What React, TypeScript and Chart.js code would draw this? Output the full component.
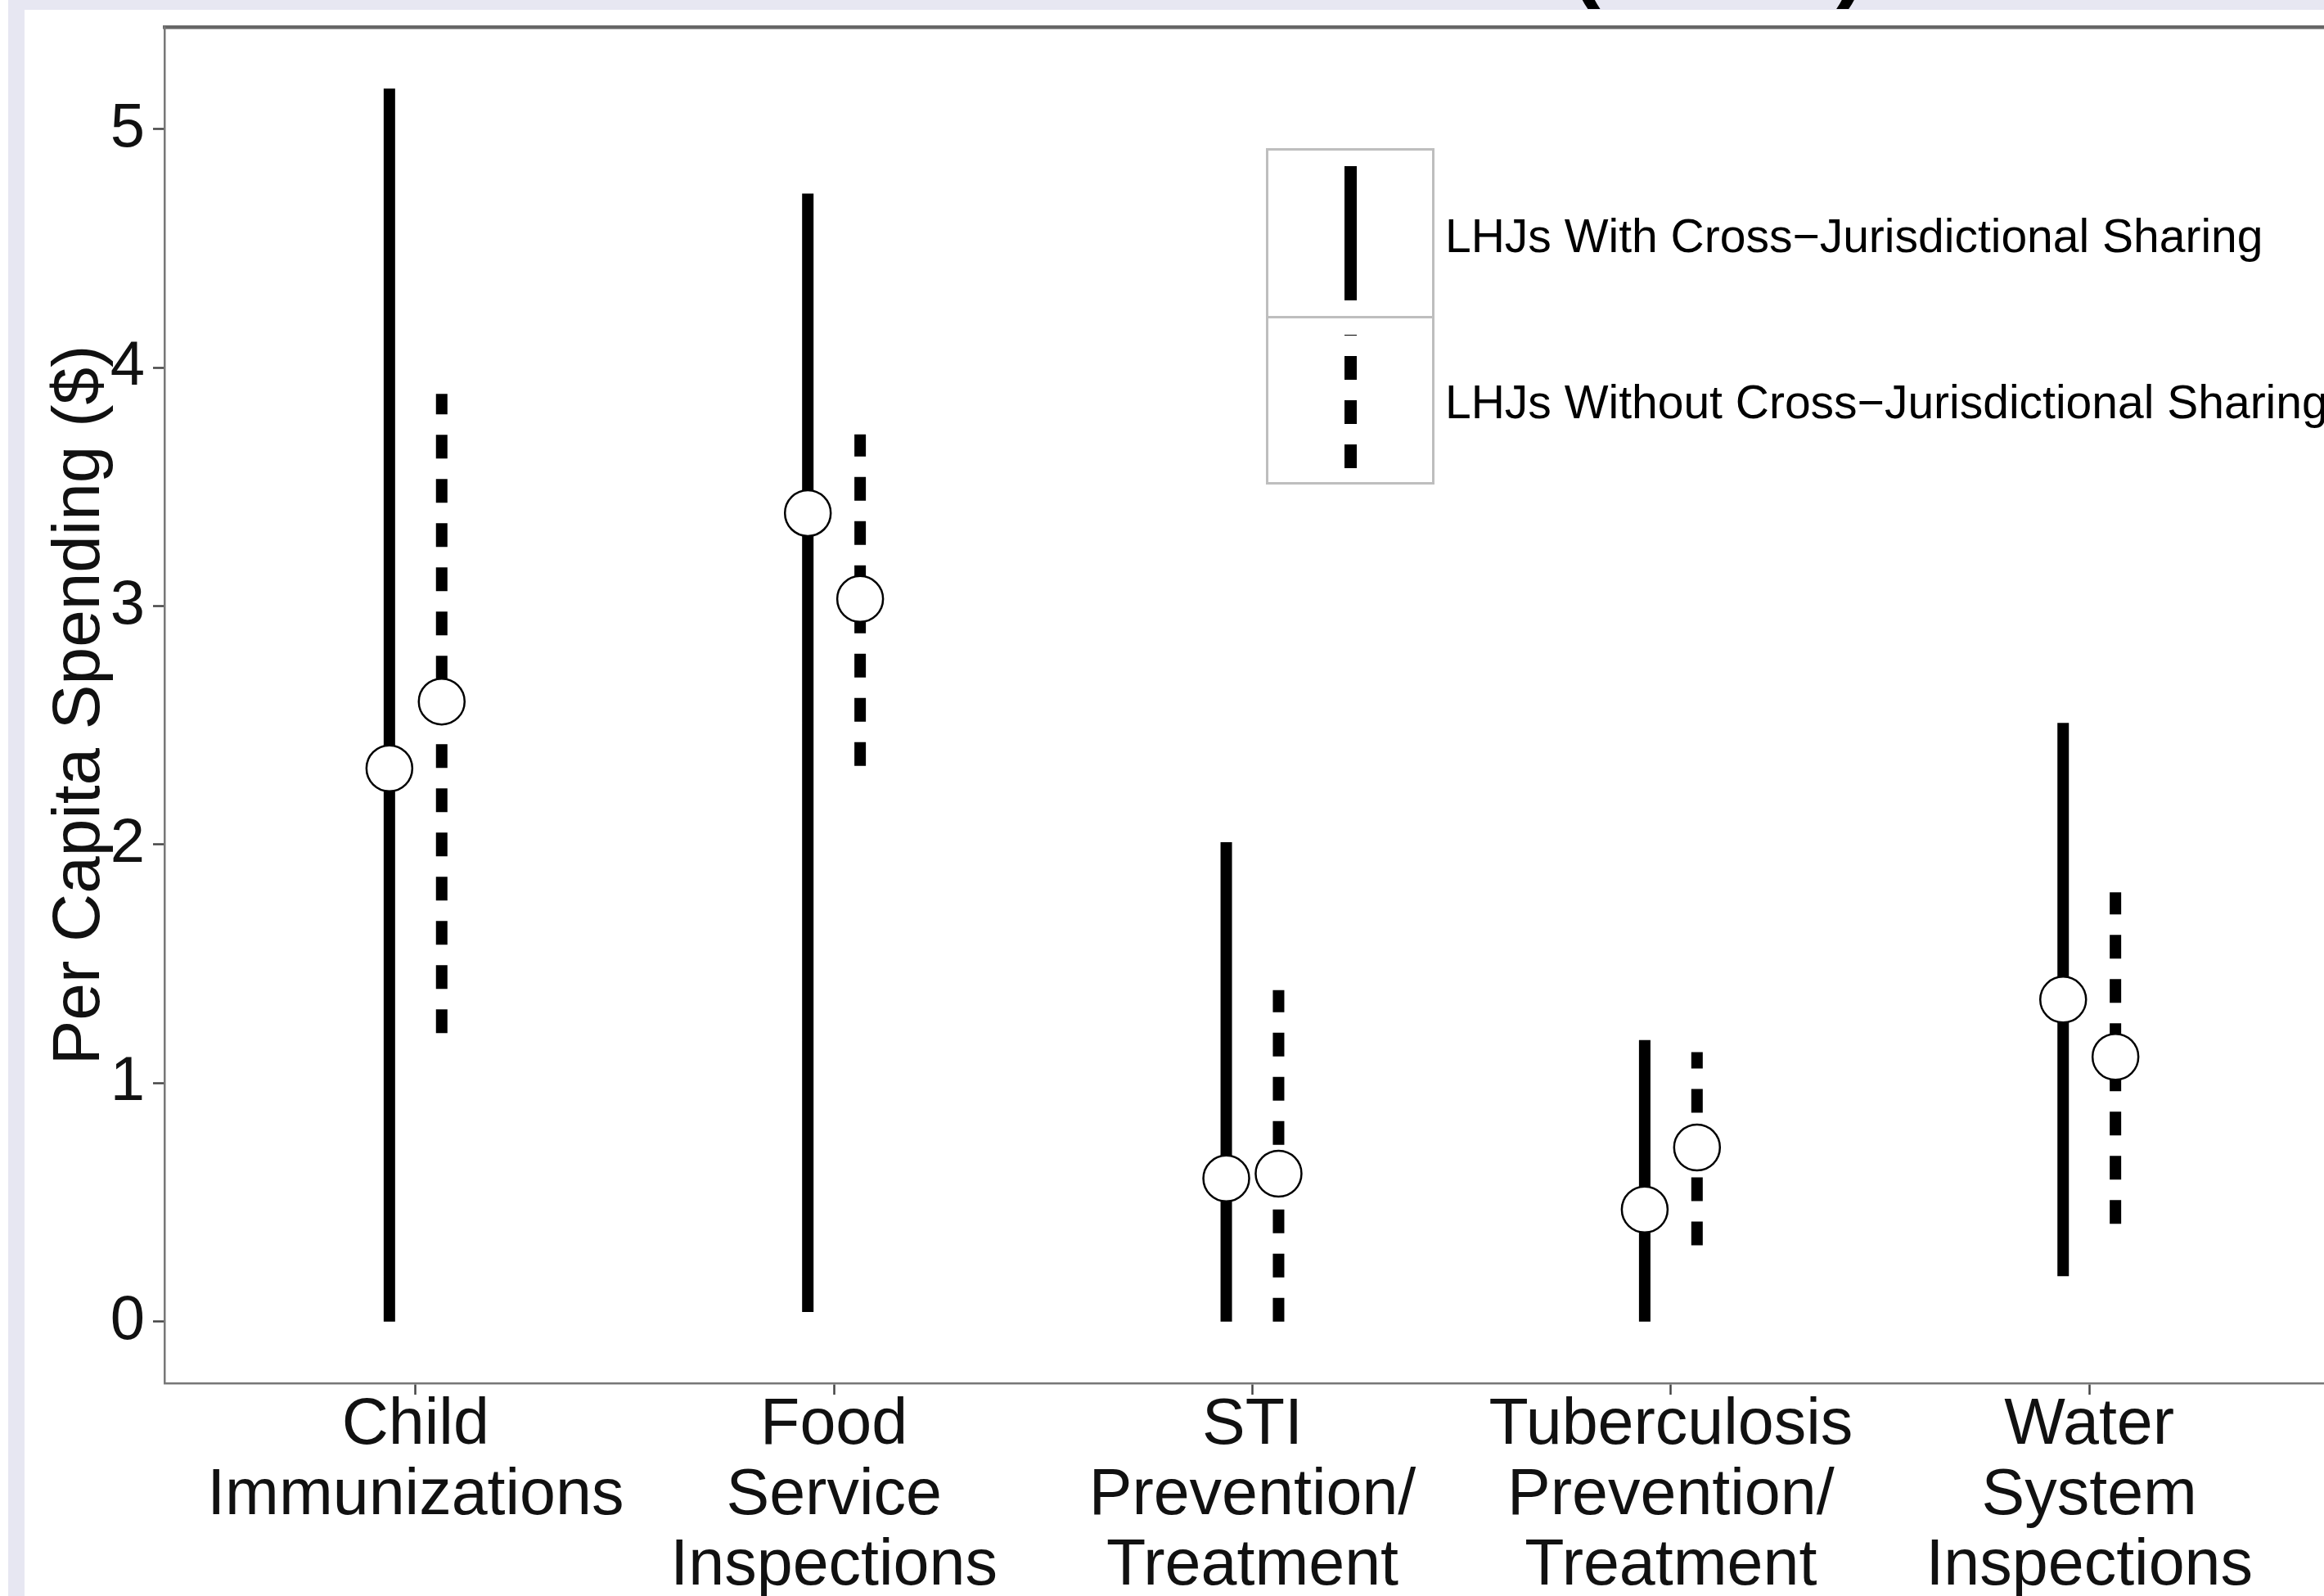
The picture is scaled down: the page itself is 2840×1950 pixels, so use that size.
import React, { useEffect, useRef } from 'react';
import { Chart, registerables } from 'chart.js';

Chart.register(...registerables);

// ---- Data ----
const CATEGORIES: string[][] = [
  ['Child', 'Immunizations'],
  ['Food', 'Service', 'Inspections'],
  ['STI', 'Prevention/', 'Treatment'],
  ['Tuberculosis', 'Prevention/', 'Treatment'],
  ['Water', 'System', 'Inspections'],
];
const WITH_LOW = [0, 0.04, 0, 0, 0.19];
const WITH_HIGH = [5.17, 4.73, 2.01, 1.18, 2.51];
const WITH_MID = [2.32, 3.39, 0.6, 0.47, 1.35];
const WITHOUT_LOW = [1.21, 2.33, 0, 0.32, 0.41];
const WITHOUT_HIGH = [3.89, 3.72, 1.39, 1.13, 1.8];
const WITHOUT_MID = [2.6, 3.03, 0.62, 0.73, 1.11];
const Y_TICKS = [0, 1, 2, 3, 4, 5];
const LEGEND_WITH = 'LHJs With Cross\u2212Jurisdictional Sharing';
const LEGEND_WITHOUT = 'LHJs Without Cross\u2212Jurisdictional Sharing';
const Y_TITLE = 'Per Capita Spending ($)';

const FONT = "'Liberation Sans', Arial, Helvetica, sans-serif";
const DODGE = 0.0625;
const CANVAS_W = 2830;
const CANVAS_H = 1940;
const AREA_TOP = 21;
const AREA_BOTTOM = 1678;
const AREA_LEFT = 171;

function rangeData(lows: number[], highs: number[], offset: number) {
  const pts: { x: number; y: number | null }[] = [];
  lows.forEach((lo, i) => {
    const x = i + 1 + offset;
    pts.push({ x, y: lo }, { x, y: highs[i] }, { x: x + 0.3, y: null });
  });
  return pts;
}

function midData(mids: number[], offset: number) {
  return mids.map((v, i) => ({ x: i + 1 + offset, y: v }));
}

function noPad(s: any) {
  s.paddingLeft = 0;
  s.paddingRight = 0;
  s.paddingTop = 0;
  s.paddingBottom = 0;
}

export default function App() {
  const canvasRef = useRef<HTMLCanvasElement | null>(null);

  useEffect(() => {
    const canvas = canvasRef.current;
    if (!canvas) return;
    const yMax = Math.max(...WITH_HIGH, ...WITHOUT_HIGH);
    const yMin = 0;
    const pad = (yMax - yMin) * 0.05;

    const chart = new Chart(canvas, {
      type: 'line',
      data: {
        datasets: [
          {
            type: 'line',
            label: LEGEND_WITH,
            data: rangeData(WITH_LOW, WITH_HIGH, -DODGE),
            borderColor: '#000',
            borderWidth: 14,
            borderCapStyle: 'butt',
            pointRadius: 0,
            spanGaps: false,
            tension: 0,
            order: 2,
          },
          {
            type: 'line',
            label: LEGEND_WITHOUT,
            data: rangeData(WITHOUT_LOW, WITHOUT_HIGH, DODGE),
            borderColor: '#000',
            borderWidth: 14,
            borderCapStyle: 'butt',
            borderDash: [29, 25],
            pointRadius: 0,
            spanGaps: false,
            tension: 0,
            order: 2,
          },
          {
            type: 'line',
            label: 'with-mid',
            data: midData(WITH_MID, -DODGE),
            showLine: false,
            pointRadius: 28,
            pointBackgroundColor: '#fff',
            pointBorderColor: '#000',
            pointBorderWidth: 2.5,
            order: 0,
          },
          {
            type: 'line',
            label: 'without-mid',
            data: midData(WITHOUT_MID, DODGE),
            showLine: false,
            pointRadius: 28,
            pointBackgroundColor: '#fff',
            pointBorderColor: '#000',
            pointBorderWidth: 2.5,
            order: 0,
          },
        ],
      },
      options: {
        responsive: false,
        animation: false,
        devicePixelRatio: 1,
        events: [],
        layout: {
          autoPadding: false,
          padding: { left: 0, top: AREA_TOP, right: 0, bottom: 0 },
        },
        plugins: {
          legend: { display: false },
          tooltip: { enabled: false },
          title: { display: false },
        },
        scales: {
          x: {
            type: 'linear',
            position: 'bottom',
            min: 0.4,
            max: CATEGORIES.length + 0.6,
            afterBuildTicks: (s: any) => {
              s.ticks = CATEGORIES.map((_, i) => ({ value: i + 1 }));
            },
            afterFit: (s: any) => {
              s.height = CANVAS_H - AREA_BOTTOM;
              noPad(s);
            },
            ticks: {
              callback: (_v: any, i: number) => CATEGORIES[i],
              color: '#111',
              font: { family: FONT, size: 79, lineHeight: 1.09 },
              padding: -5,
              maxRotation: 0,
              minRotation: 0,
              autoSkip: false,
            },
            grid: {
              drawOnChartArea: false,
              drawTicks: true,
              tickLength: 14,
              tickWidth: 2.5,
              tickColor: '#444',
            },
            border: { display: true, color: '#777', width: 2.5 },
          },
          xTop: {
            type: 'linear',
            position: 'top',
            min: 0.4,
            max: CATEGORIES.length + 0.6,
            ticks: { display: false },
            grid: { display: false, drawTicks: false },
            border: { display: true, color: '#666', width: 4.5 },
            afterFit: (s: any) => {
              s.height = 0;
              noPad(s);
            },
          },
          y: {
            type: 'linear',
            min: yMin - pad,
            max: yMax + pad,
            afterBuildTicks: (s: any) => {
              s.ticks = Y_TICKS.map((v) => ({ value: v }));
            },
            afterFit: (s: any) => {
              s.width = AREA_LEFT;
              noPad(s);
            },
            ticks: {
              color: '#111',
              font: { family: FONT, size: 76 },
              padding: 10,
              callback: (v: any) => String(v),
            },
            grid: {
              drawOnChartArea: false,
              drawTicks: true,
              tickLength: 14,
              tickWidth: 2.5,
              tickColor: '#444',
            },
            border: { display: true, color: '#777', width: 2.5 },
            title: {
              display: true,
              text: Y_TITLE,
              color: '#111',
              font: { family: FONT, size: 82 },
              padding: { top: 19, bottom: 0 },
            },
          },
        },
      },
    } as any);

    return () => chart.destroy();
  }, []);

  const legendText: React.CSSProperties = {
    position: 'absolute',
    left: 1766,
    height: 70,
    lineHeight: '70px',
    fontFamily: FONT,
    fontSize: 57,
    color: '#000',
    whiteSpace: 'nowrap',
  };

  const paren: React.CSSProperties = {
    position: 'absolute',
    top: -105,
    fontFamily: FONT,
    fontWeight: 'bold',
    fontSize: 110,
    lineHeight: '110px',
    color: '#000',
  };

  return (
    <div
      style={{
        position: 'fixed',
        left: 0,
        top: 0,
        width: 2840,
        height: 1950,
        overflow: 'hidden',
        background: '#fff',
      }}
    >
      <div
        style={{
          position: 'absolute',
          left: 10,
          top: 0,
          right: 0,
          bottom: 0,
          background: '#e7e7f2',
        }}
      />
      {/* clipped title fragments visible at the very top */}
      <div
        style={{
          position: 'absolute',
          left: 0,
          top: 0,
          width: 2840,
          height: 12,
          overflow: 'hidden',
        }}
      >
        <span style={{ ...paren, left: 1919 }}>(</span>
        <span style={{ ...paren, left: 2244 }}>)</span>
      </div>
      <div
        style={{
          position: 'absolute',
          left: 30,
          top: 12,
          width: CANVAS_W,
          height: CANVAS_H,
          background: '#fff',
        }}
      >
        <canvas
          ref={canvasRef}
          width={CANVAS_W}
          height={CANVAS_H}
          style={{ display: 'block', width: CANVAS_W, height: CANVAS_H }}
        />
      </div>
      {/* Legend */}
      <div
        style={{
          position: 'absolute',
          left: 1547,
          top: 181,
          width: 206,
          height: 411,
          border: '3px solid #bebebe',
          boxSizing: 'border-box',
          background: '#fff',
        }}
      />
      <div
        style={{
          position: 'absolute',
          left: 1547,
          top: 386,
          width: 206,
          height: 3,
          background: '#bebebe',
        }}
      />
      <div
        style={{
          position: 'absolute',
          left: 1643,
          top: 203,
          width: 15,
          height: 164,
          background: '#000',
        }}
      />
      <div
        style={{
          position: 'absolute',
          left: 1643,
          top: 409,
          width: 15,
          height: 163,
          background:
            'repeating-linear-gradient(to top, #000 0px, #000 29px, transparent 29px, transparent 54px)',
        }}
      />
      <div style={{ ...legendText, top: 288 - 35 }}>{LEGEND_WITH}</div>
      <div style={{ ...legendText, top: 491 - 35 }}>{LEGEND_WITHOUT}</div>
    </div>
  );
}
